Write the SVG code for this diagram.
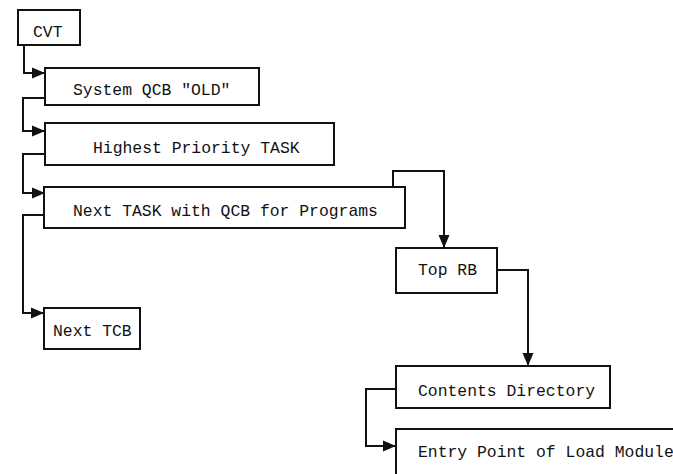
<svg xmlns="http://www.w3.org/2000/svg" width="673" height="474" viewBox="0 0 673 474">
  <style>
    .box { fill: #ffffff; stroke: #111111; stroke-width: 2; }
    .lbl { font-family: "Liberation Mono", "DejaVu Sans Mono", monospace; font-size: 16.4px; fill: #111111; }
    .wire { fill: none; stroke: #111111; stroke-width: 2; marker-end: url(#head); }
  </style>
  <defs>
    <marker id="head" markerUnits="userSpaceOnUse" markerWidth="14" markerHeight="12" refX="13" refY="6" orient="auto">
      <path d="M0,0.5 L13,6 L0,11.5 Z" fill="#111111"/>
    </marker>
  </defs>
  <rect width="673" height="474" fill="#ffffff"/>

  <g id="connectors">
    <path class="wire" d="M24,45 V73 H45"/>
    <path class="wire" d="M45,98 H23 V131 H45"/>
    <path class="wire" d="M45,154 H23 V193 H45"/>
    <path class="wire" d="M44,215 H23 V313 H44"/>
    <path class="wire" d="M393,187 V171 H444 V248"/>
    <path class="wire" d="M497,270 H528 V366"/>
    <path class="wire" d="M396,389 H366 V446 H396"/>
  </g>

  <g id="cvt">
    <rect class="box" x="18" y="10" width="62" height="35"/>
    <text class="lbl" x="33" y="37">CVT</text>
  </g>
  <g id="system-qcb">
    <rect class="box" x="45" y="68" width="214" height="37"/>
    <text class="lbl" x="73" y="95">System QCB "OLD"</text>
  </g>
  <g id="highest-task">
    <rect class="box" x="45" y="123" width="289" height="42"/>
    <text class="lbl" x="93" y="153">Highest Priority TASK</text>
  </g>
  <g id="next-task">
    <rect class="box" x="44" y="187" width="361" height="41"/>
    <text class="lbl" x="73" y="216">Next TASK with QCB for Programs</text>
  </g>
  <g id="next-tcb">
    <rect class="box" x="44" y="308" width="96" height="41"/>
    <text class="lbl" x="53" y="336">Next TCB</text>
  </g>
  <g id="top-rb">
    <rect class="box" x="396" y="248" width="101" height="45"/>
    <text class="lbl" x="418" y="275">Top RB</text>
  </g>
  <g id="contents-directory">
    <rect class="box" x="396" y="366" width="214" height="42"/>
    <text class="lbl" x="418" y="396">Contents Directory</text>
  </g>
  <g id="entry-point">
    <rect class="box" x="396" y="429" width="320" height="70"/>
    <text class="lbl" x="418" y="457">Entry Point of Load Module</text>
  </g>
</svg>
